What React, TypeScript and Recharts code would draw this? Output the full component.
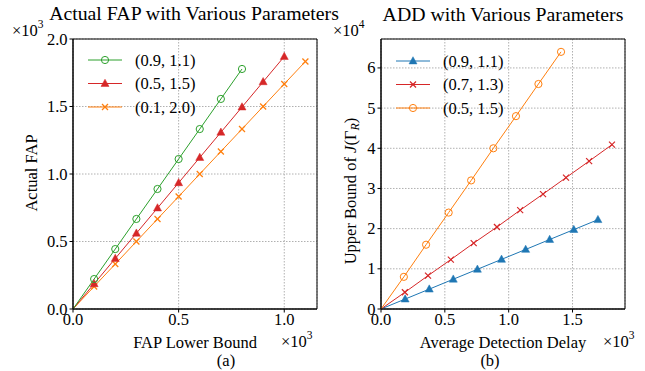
import React from 'react';
import { LineChart, Line, XAxis, YAxis, CartesianGrid, ReferenceArea } from 'recharts';

const FONT = "'Liberation Serif', 'Times New Roman', Times, serif";

// (a) Actual FAP vs FAP lower bound, values in units of 1e3
const fapBound = [0, 0.1, 0.2, 0.3, 0.4, 0.5, 0.6, 0.7, 0.8, 0.9, 1.0, 1.1];
const fapGreen = [0, 0.222, 0.444, 0.667, 0.889, 1.111, 1.333, 1.556, 1.778];
const fapRed = [0, 0.187, 0.374, 0.561, 0.748, 0.935, 1.122, 1.309, 1.496, 1.683, 1.87];
const fapOrange = [0, 0.167, 0.333, 0.5, 0.667, 0.833, 1.0, 1.167, 1.333, 1.5, 1.667, 1.833];

// (b) upper bound of J vs average detection delay (x in 1e3, y in 1e4)
const addBlueX = [0, 0.189, 0.378, 0.566, 0.755, 0.944, 1.133, 1.321, 1.51, 1.699];
const addBlueY = [0, 0.247, 0.494, 0.741, 0.988, 1.235, 1.482, 1.729, 1.976, 2.223];
const addRedX = [0, 0.187, 0.368, 0.547, 0.726, 0.908, 1.09, 1.269, 1.449, 1.63, 1.809];
const addRedY = [0, 0.416, 0.83, 1.23, 1.64, 2.04, 2.46, 2.86, 3.27, 3.68, 4.09];
const addOrangeX = [0, 0.179, 0.353, 0.53, 0.706, 0.88, 1.057, 1.233, 1.41];
const addOrangeY = [0, 0.8, 1.6, 2.4, 3.2, 4.0, 4.8, 5.6, 6.4];

const legendA = ['(0.9, 1.1)', '(0.5, 1.5)', '(0.1, 2.0)'];
const legendB = ['(0.9, 1.1)', '(0.7, 1.3)', '(0.5, 1.5)'];

const BLUE = '#1f77b4';
const ORANGE = '#ff7f0e';
const GREEN = '#2ca02c';
const RED = '#d62728';

type Kind = 'circle' | 'triangle' | 'cross';

const zip = (xs: number[], ys: number[]) => ys.map((y, i) => ({ x: xs[i], y }));

const Marker = ({ kind, x, y, color }: { kind: Kind; x: number; y: number; color: string }) => {
  if (kind === 'circle') {
    return <circle cx={x} cy={y} r={3.6} fill="none" stroke={color} strokeWidth={1} />;
  }
  if (kind === 'triangle') {
    return (
      <polygon
        points={`${x},${y - 4.3} ${x - 4},${y + 2.9} ${x + 4},${y + 2.9}`}
        fill={color}
        stroke={color}
        strokeWidth={0.5}
      />
    );
  }
  return (
    <g stroke={color} strokeWidth={1.2}>
      <line x1={x - 3} y1={y - 3} x2={x + 3} y2={y + 3} />
      <line x1={x - 3} y1={y + 3} x2={x + 3} y2={y - 3} />
    </g>
  );
};

const dotFor = (kind: Kind, color: string) => (props: any) => {
  const { cx, cy, index } = props;
  const k = `${kind}-${color}-${index}`;
  if (index === 0 || cx == null || cy == null) return <g key={k} />;
  return (
    <g key={k}>
      <Marker kind={kind} x={cx} y={cy} color={color} />
    </g>
  );
};

// ticks drawn by hand so the serif font sticks
const XTick = (props: any) => {
  const { x, y, payload } = props;
  return (
    <text x={x} y={y + 12} textAnchor="middle" fontSize={16.5} fontFamily={FONT} fill="#000">
      {Number(payload.value).toFixed(1)}
    </text>
  );
};

const YTick = (digits: number) => (props: any) => {
  const { x, y, payload } = props;
  return (
    <text x={x} y={y + 5.5} textAnchor="end" fontSize={16.5} fontFamily={FONT} fill="#000">
      {Number(payload.value).toFixed(digits)}
    </text>
  );
};

const Legend = ({ x, y, items }: { x: number; y: number; items: { label: string; color: string; kind: Kind }[] }) => (
  <g>
    {items.map((it, i) => {
      const cy = y + i * 23.5;
      return (
        <g key={it.label + i}>
          <line x1={x} y1={cy} x2={x + 34} y2={cy} stroke={it.color} strokeWidth={1} />
          <Marker kind={it.kind} x={x + 17} y={cy} color={it.color} />
          <text x={x + 47} y={cy + 5.5} fontSize={16.5} fontFamily={FONT} fill="#000">
            {it.label}
          </text>
        </g>
      );
    })}
  </g>
);

const Sci = ({ x, y, exp }: { x: number; y: number; exp: string }) => (
  <text x={x} y={y} fontSize={16.5} fontFamily={FONT} fill="#000">
    ×10
    <tspan fontSize={11.5} dy={-8}>
      {exp}
    </tspan>
  </text>
);

const App = () => {
  const dataGreen = zip(fapBound, fapGreen);
  const dataRed = zip(fapBound, fapRed);
  const dataOrange = zip(fapBound, fapOrange);
  const dataBBlue = zip(addBlueX, addBlueY);
  const dataBRed = zip(addRedX, addRedY);
  const dataBOrange = zip(addOrangeX, addOrangeY);

  return (
    <div style={{ position: 'absolute', left: 0, top: 0, width: 645, height: 371, background: '#fff', fontFamily: FONT }}>
      <div style={{ position: 'absolute', left: 0, top: 0 }}>
        <LineChart width={322} height={371} margin={{ top: 39, right: 5, bottom: 32, left: 33 }}>
          <CartesianGrid stroke="#b0b0b0" strokeDasharray="1.5 1.5" />
          <XAxis
            type="number"
            dataKey="x"
            domain={[0, 1.155]}
            ticks={[0, 0.5, 1.0]}
            allowDataOverflow
            height={30}
            tick={<XTick />}
            tickSize={3.5}
            tickMargin={0}
            stroke="#000"
          />
          <YAxis
            type="number"
            dataKey="y"
            domain={[0, 2]}
            ticks={[0, 0.5, 1.0, 1.5, 2.0]}
            allowDataOverflow
            width={40}
            tick={YTick(1)}
            tickSize={3.5}
            tickMargin={2}
            stroke="#000"
          />
          <ReferenceArea x1={0} x2={1.155} y1={0} y2={2} fill="none" stroke="#000" strokeWidth={1} />
          <Line data={dataOrange} dataKey="y" stroke={ORANGE} strokeWidth={1} dot={dotFor('cross', ORANGE)} activeDot={false} isAnimationActive={false} />
          <Line data={dataRed} dataKey="y" stroke={RED} strokeWidth={1} dot={dotFor('triangle', RED)} activeDot={false} isAnimationActive={false} />
          <Line data={dataGreen} dataKey="y" stroke={GREEN} strokeWidth={1} dot={dotFor('circle', GREEN)} activeDot={false} isAnimationActive={false} />
        </LineChart>
      </div>
      <div style={{ position: 'absolute', left: 322, top: 0 }}>
        <LineChart width={323} height={371} margin={{ top: 39, right: 20, bottom: 32, left: 19 }}>
          <CartesianGrid stroke="#b0b0b0" strokeDasharray="1.5 1.5" />
          <XAxis
            type="number"
            dataKey="x"
            domain={[0, 1.911]}
            ticks={[0, 0.5, 1.0, 1.5]}
            allowDataOverflow
            height={30}
            tick={<XTick />}
            tickSize={3.5}
            tickMargin={0}
            stroke="#000"
          />
          <YAxis
            type="number"
            dataKey="y"
            domain={[0, 6.72]}
            ticks={[0, 1, 2, 3, 4, 5, 6]}
            allowDataOverflow
            width={40}
            tick={YTick(0)}
            tickSize={3.5}
            tickMargin={2}
            stroke="#000"
          />
          <ReferenceArea x1={0} x2={1.911} y1={0} y2={6.72} fill="none" stroke="#000" strokeWidth={1} />
          <Line data={dataBBlue} dataKey="y" stroke={BLUE} strokeWidth={1} dot={dotFor('triangle', BLUE)} activeDot={false} isAnimationActive={false} />
          <Line data={dataBRed} dataKey="y" stroke={RED} strokeWidth={1} dot={dotFor('cross', RED)} activeDot={false} isAnimationActive={false} />
          <Line data={dataBOrange} dataKey="y" stroke={ORANGE} strokeWidth={1} dot={dotFor('circle', ORANGE)} activeDot={false} isAnimationActive={false} />
        </LineChart>
      </div>
      <svg width={645} height={371} style={{ position: 'absolute', left: 0, top: 0, pointerEvents: 'none' }}>
        <text x={194} y={20} textAnchor="middle" fontSize={19.8} fontFamily={FONT} fill="#000">
          Actual FAP with Various Parameters
        </text>
        <text x={503} y={21} textAnchor="middle" fontSize={19.8} fontFamily={FONT} fill="#000">
          ADD with Various Parameters
        </text>
        <Sci x={12} y={36} exp="3" />
        <Sci x={281} y={347} exp="3" />
        <Sci x={333} y={36} exp="4" />
        <Sci x={603} y={347} exp="3" />
        <text x={195} y={348} textAnchor="middle" fontSize={16.5} fontFamily={FONT} fill="#000">
          FAP Lower Bound
        </text>
        <text x={226} y={366} textAnchor="middle" fontSize={16.5} fontFamily={FONT} fill="#000">
          (a)
        </text>
        <text x={503} y={348} textAnchor="middle" fontSize={16.5} fontFamily={FONT} fill="#000">
          Average Detection Delay
        </text>
        <text x={490} y={366} textAnchor="middle" fontSize={16.5} fontFamily={FONT} fill="#000">
          (b)
        </text>
        <text
          x={37}
          y={173}
          transform="rotate(-90 37 173)"
          textAnchor="middle"
          fontSize={16.5}
          fontFamily={FONT}
          fill="#000"
        >
          Actual FAP
        </text>
        <text
          x={356}
          y={191}
          transform="rotate(-90 356 191)"
          textAnchor="middle"
          fontSize={16.5}
          fontFamily={FONT}
          fill="#000"
        >
          Upper Bound of <tspan fontStyle="italic">J</tspan>(Γ
          <tspan fontStyle="italic" fontSize={12} dy={3}>R</tspan>
          <tspan dy={-3}>)</tspan>
        </text>
        <Legend
          x={88}
          y={60}
          items={[
            { label: legendA[0], color: GREEN, kind: 'circle' },
            { label: legendA[1], color: RED, kind: 'triangle' },
            { label: legendA[2], color: ORANGE, kind: 'cross' },
          ]}
        />
        <Legend
          x={396}
          y={61}
          items={[
            { label: legendB[0], color: BLUE, kind: 'triangle' },
            { label: legendB[1], color: RED, kind: 'cross' },
            { label: legendB[2], color: ORANGE, kind: 'circle' },
          ]}
        />
      </svg>
    </div>
  );
};

export default App;
